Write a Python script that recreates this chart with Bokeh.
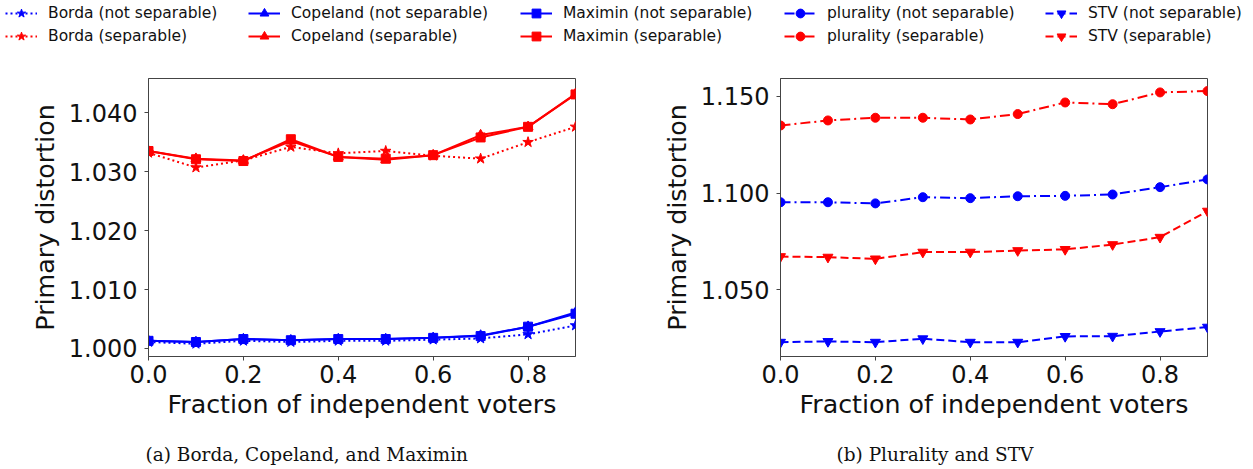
import math
from bokeh.plotting import figure
from bokeh.layouts import column, row
from bokeh.models import (Range1d, Legend, LegendItem, FixedTicker,
                          NumeralTickFormatter, Label)
from bokeh.embed import file_html
from bokeh.resources import INLINE

# ---------------- data ----------------
fraction = [0.0, 0.1, 0.2, 0.3, 0.4, 0.5, 0.6, 0.7, 0.8, 0.9]

borda_not_sep = [1.0011, 1.0008, 1.0013, 1.0011, 1.0013, 1.0013, 1.0015, 1.0017, 1.0024, 1.0039]
borda_sep = [1.0332, 1.0307, 1.0319, 1.0342, 1.0331, 1.0335, 1.0327, 1.0322, 1.0350, 1.0376]
copeland_not_sep = [1.0013, 1.0011, 1.0016, 1.0014, 1.0016, 1.0016, 1.0018, 1.0022, 1.0037, 1.0061]
copeland_sep = [1.0335, 1.0322, 1.0319, 1.0352, 1.0325, 1.0320, 1.0328, 1.0362, 1.0376, 1.0432]
maximin_not_sep = [1.0013, 1.0011, 1.0016, 1.0014, 1.0016, 1.0016, 1.0018, 1.0021, 1.0037, 1.0059]
maximin_sep = [1.0335, 1.0321, 1.0318, 1.0355, 1.0325, 1.0322, 1.0328, 1.0358, 1.0376, 1.0431]

plurality_not_sep = [1.0953, 1.0953, 1.0947, 1.0979, 1.0974, 1.0984, 1.0986, 1.0993, 1.1031, 1.1071]
plurality_sep = [1.1350, 1.1376, 1.1390, 1.1390, 1.1381, 1.1409, 1.1469, 1.1460, 1.1521, 1.1528]
stv_not_sep = [1.0229, 1.0233, 1.0229, 1.0247, 1.0229, 1.0229, 1.0259, 1.0260, 1.0284, 1.0307]
stv_sep = [1.0672, 1.0669, 1.0660, 1.0695, 1.0695, 1.0703, 1.0709, 1.0734, 1.0772, 1.0907]

x_ticks = [0.0, 0.2, 0.4, 0.6, 0.8]
left_y_ticks = [1.000, 1.010, 1.020, 1.030, 1.040]
right_y_ticks = [1.050, 1.100, 1.150]

x_label = "Fraction of independent voters"
y_label = "Primary distortion"
caption_a = "(a) Borda, Copeland, and Maximin"
caption_b = "(b) Plurality and STV"

BLUE = "#0000ff"
RED = "#ff0000"
DOT = "2 3"
DASH = "8 4"
DASHDOT = "10 4 2 4"

# (label, values, color, dash, marker, marker size)
left_series = [
    ("Borda (not separable)", borda_not_sep, BLUE, DOT, "star", 11),
    ("Borda (separable)", borda_sep, RED, DOT, "star", 11),
    ("Copeland (not separable)", copeland_not_sep, BLUE, "solid", "triangle", 10),
    ("Copeland (separable)", copeland_sep, RED, "solid", "triangle", 10),
    ("Maximin (not separable)", maximin_not_sep, BLUE, "solid", "square", 9),
    ("Maximin (separable)", maximin_sep, RED, "solid", "square", 9),
]
right_series = [
    ("plurality (not separable)", plurality_not_sep, BLUE, DASHDOT, "circle", 9),
    ("plurality (separable)", plurality_sep, RED, DASHDOT, "circle", 9),
    ("STV (not separable)", stv_not_sep, BLUE, DASH, "inverted_triangle", 10),
    ("STV (separable)", stv_sep, RED, DASH, "inverted_triangle", 10),
]

FRAME = "#444444"
TICK_FONT = "24px"
LABEL_FONT = "25.3px"
CAPTION_FONT = "18.5px"


def style_axes(p, yticks):
    p.xgrid.visible = False
    p.ygrid.visible = False
    p.outline_line_color = FRAME
    p.outline_line_width = 1
    p.xaxis.ticker = FixedTicker(ticks=x_ticks)
    p.yaxis.ticker = FixedTicker(ticks=yticks)
    p.xaxis.formatter = NumeralTickFormatter(format="0.0")
    p.yaxis.formatter = NumeralTickFormatter(format="0.000")
    for ax in (p.xaxis[0], p.yaxis[0]):
        ax.axis_line_color = FRAME
        ax.major_tick_line_color = FRAME
        ax.minor_tick_line_color = None
        ax.major_tick_out = 4
        ax.major_tick_in = 0
        ax.major_label_text_font = "DejaVu Sans"
        ax.major_label_text_font_size = TICK_FONT
        ax.major_label_text_color = "#111111"
        ax.axis_label_text_font = "DejaVu Sans"
        ax.axis_label_text_font_size = LABEL_FONT
        ax.axis_label_text_font_style = "normal"
        ax.axis_label_text_color = "#111111"
    p.xaxis.axis_label = x_label
    p.yaxis.axis_label = y_label
    p.xaxis.major_label_standoff = 4
    p.xaxis.axis_label_standoff = 4
    p.yaxis.major_label_standoff = 7
    p.yaxis.axis_label_standoff = 6


def draw(p, series):
    for label, vals, color, dash, marker, size in series:
        p.line(fraction, vals, line_color=color, line_width=2, line_dash=dash)
        p.scatter(fraction, vals, marker=marker, size=size, fill_color=color,
                  line_color=color)


left = figure(width=640, height=370, output_backend="svg", toolbar_location=None,
              x_range=Range1d(0.0, 0.9), y_range=Range1d(0.99864, 1.0458),
              min_border_left=148, min_border_right=65, min_border_top=18,
              min_border_bottom=74, border_fill_color="white")
style_axes(left, left_y_ticks)
draw(left, left_series)

right = figure(width=613, height=370, output_backend="svg", toolbar_location=None,
               x_range=Range1d(0.0, 0.9), y_range=Range1d(1.0155, 1.1593),
               min_border_left=140, min_border_right=46, min_border_top=18,
               min_border_bottom=74, border_fill_color="white")
style_axes(right, right_y_ticks)
draw(right, right_series)


# ---------------- caption strip ----------------
def caption_fig(text, width, left_pad):
    c = figure(width=width, height=39, output_backend="svg", toolbar_location=None,
               x_range=Range1d(0, 1), y_range=Range1d(0, 1),
               x_axis_type=None, y_axis_type=None, min_border=0,
               outline_line_color=None, border_fill_color="white")
    c.xgrid.visible = False
    c.ygrid.visible = False
    c.add_layout(Label(x=left_pad, y=15, x_units="screen", y_units="screen",
                       text=text, text_font="DejaVu Serif",
                       text_font_size=CAPTION_FONT, text_color="#111111",
                       text_align="left", text_baseline="middle"))
    return c


cap_a = caption_fig(caption_a, 640, 145)
cap_b = caption_fig(caption_b, 613, 196)

# ---------------- legend strip ----------------
leg = figure(width=1253, height=60, output_backend="svg", toolbar_location=None,
             x_range=Range1d(0, 1), y_range=Range1d(0, 1),
             x_axis_type=None, y_axis_type=None, min_border=0,
             outline_line_color=None, border_fill_color="white")
leg.xgrid.visible = False
leg.ygrid.visible = False

nan = [float("nan")]
proxies = []
for label, vals, color, dash, marker, size in left_series + right_series:
    r1 = leg.line(nan, nan, line_color=color, line_width=2, line_dash=dash)
    r2 = leg.scatter(nan, nan, marker=marker, size=size, fill_color=color,
                     line_color=color)
    proxies.append((label, [r1, r2]))

col_x = [5, 248, 520, 784, 1045]
for i, cx in enumerate(col_x):
    items = [LegendItem(label=lab, renderers=rs) for lab, rs in proxies[2 * i:2 * i + 2]]
    lg = Legend(items=items, location=(cx, 13), orientation="vertical",
                glyph_width=32, glyph_height=22, label_height=22,
                label_standoff=11, spacing=1, padding=0, margin=0,
                border_line_color=None, background_fill_alpha=0,
                label_text_font="DejaVu Sans", label_text_font_size="15.5px",
                label_text_color="#111111")
    leg.add_layout(lg, "center")

layout = column(leg, row(left, right), row(cap_a, cap_b))
open("out.html", "w").write(file_html(layout, INLINE))
